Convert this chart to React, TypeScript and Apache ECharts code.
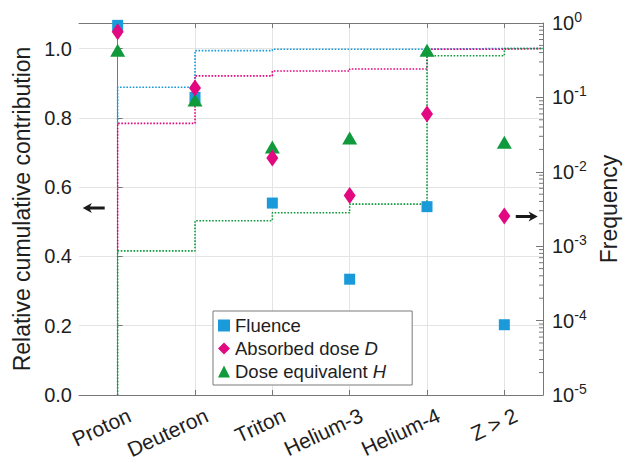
import React, { useEffect, useRef } from 'react';
import * as echarts from 'echarts';

const categories = ['Proton', 'Deuteron', 'Triton', 'Helium-3', 'Helium-4', 'Z > 2'];
const fluenceFreq = [0.93, 0.1, 0.0038, 0.00036, 0.0034, 0.000088];
const absorbedFreq = [0.76, 0.134, 0.0153, 0.0048, 0.06, 0.00255];
const doseEqFreq = [0.43, 0.092, 0.0215, 0.0284, 0.43, 0.025];
const fluenceCum = [0.888, 0.994, 0.998, 0.998, 1.0, 1.0];
const absorbedCum = [0.784, 0.921, 0.935, 0.941, 0.998, 1.0];
const doseEqCum = [0.416, 0.503, 0.526, 0.551, 0.979, 1.0];
const leftArrow = [-0.31, 0.54];
const rightArrow = [5.29, 0.0025];
const minorMultipliers = [2, 3, 4, 5, 6, 7, 8, 9];
const decades = [-5, -4, -3, -2, -1];

const BLUE = '#1a9ad8';
const PINK = '#e2087f';
const GREEN = '#109a3c';
const TEXT = '#1e1e1e';
const FONT = 'Liberation Sans, Arial, sans-serif';

// step outline: rises at the first category from `base`, then holds each level until the next category
function stepPath(cum: number[], base: number) {
  const pts: number[][] = [[0, base]];
  cum.forEach((v, i) => {
    pts.push([i, v]);
    if (i < cum.length - 1) pts.push([i + 1, v]);
  });
  pts.push([cum.length - 0.5, cum[cum.length - 1]]);
  return pts;
}

const minorValues: number[][] = [];
decades.forEach((d) => minorMultipliers.forEach((m) => minorValues.push([categories.length - 0.5, m * Math.pow(10, d)])));

const ARROW_LEFT = 'path://M0,5 L10,0 L8,3.5 L24,3.5 L24,6.5 L8,6.5 L10,10 Z';
const ARROW_RIGHT = 'path://M24,5 L14,0 L16,3.5 L0,3.5 L0,6.5 L16,6.5 L14,10 Z';

export default function App() {
  const ref = useRef<HTMLDivElement>(null);
  useEffect(() => {
    const chart = echarts.init(ref.current!, null, { renderer: 'svg' });
    const stepSeries = (name: string, cum: number[], base: number, color: string) => ({
      name,
      type: 'line',
      xAxisIndex: 1,
      yAxisIndex: 0,
      data: stepPath(cum, base),
      symbol: 'none',
      lineStyle: { color, width: 1.6, type: [1.6, 1.6] },
      silent: true,
      z: 3,
    });
    chart.setOption({
      animation: false,
      textStyle: { fontFamily: FONT },
      grid: { left: 79, top: 23, right: 85, bottom: 68, containLabel: false, outerBoundsMode: 'none' },
      legend: {
        data: [
          { name: 'Fluence', icon: 'rect' },
          { name: 'Absorbed dose', icon: 'diamond' },
          { name: 'Dose equivalent', icon: 'triangle' },
        ],
        orient: 'vertical',
        left: 213,
        top: 311,
        itemWidth: 12,
        itemHeight: 12,
        itemGap: 4,
        padding: [5, 26, 4, 5],
        backgroundColor: '#fff',
        borderColor: '#7a7a7a',
        borderWidth: 1,
        selectedMode: false,
        formatter: (n: string) => {
          if (n === 'Absorbed dose') return '{t|Absorbed dose }{i|D}';
          if (n === 'Dose equivalent') return '{t|Dose equivalent }{i|H}';
          return '{t|' + n + '}';
        },
        textStyle: {
          rich: {
            t: { fontSize: 18.5, color: TEXT, fontFamily: FONT, lineHeight: 19 },
            i: { fontSize: 18.5, color: TEXT, fontFamily: FONT, fontStyle: 'italic', lineHeight: 19 },
          },
        },
      },
      xAxis: [
        {
          type: 'category',
          data: categories,
          position: 'bottom',
          boundaryGap: true,
          axisLine: { show: true, lineStyle: { color: '#777', width: 1 } },
          axisTick: { show: true, inside: true, alignWithLabel: true, length: 5, lineStyle: { color: '#777' } },
          splitLine: { show: true, alignWithLabel: true, lineStyle: { color: '#e4e4e4', width: 1 } },
          axisLabel: {
            interval: 0,
            rotate: 25,
            fontSize: 21,
            color: TEXT,
            margin: 13,
            fontFamily: FONT,
            align: 'right',
            verticalAlign: 'top',
            padding: [0, -8, 0, 0],
          },
        },
        {
          type: 'value',
          min: -0.5,
          max: categories.length - 0.5,
          show: false,
        },
        {
          type: 'category',
          data: categories,
          position: 'top',
          boundaryGap: true,
          axisLine: { show: true, lineStyle: { color: '#777', width: 1 } },
          axisTick: { show: true, inside: true, alignWithLabel: true, length: 5, lineStyle: { color: '#777' } },
          axisLabel: { show: false },
          splitLine: { show: false },
        },
      ],
      yAxis: [
        {
          type: 'value',
          min: 0,
          max: 1.0736,
          interval: 0.2,
          position: 'left',
          name: 'Relative cumulative contribution',
          nameLocation: 'middle',
          nameGap: 35,
          nameRotate: 90,
          nameTextStyle: { fontSize: 23, color: TEXT, fontFamily: FONT },
          axisLine: { show: true, lineStyle: { color: '#777', width: 1 } },
          axisTick: { show: true, inside: true, length: 5, lineStyle: { color: '#777' } },
          splitLine: { show: true, lineStyle: { color: '#e4e4e4', width: 1 } },
          axisLabel: { fontSize: 20, color: TEXT, margin: 7, formatter: (v: number) => v.toFixed(1), showMaxLabel: false },
        },
        {
          type: 'log',
          logBase: 10,
          min: 0.00001,
          max: 1,
          position: 'right',
          name: 'Frequency',
          nameLocation: 'middle',
          nameGap: 46,
          nameRotate: 90,
          nameTextStyle: { fontSize: 23, color: TEXT, fontFamily: FONT },
          axisLine: { show: true, lineStyle: { color: '#777', width: 1 } },
          axisTick: { show: true, inside: true, length: 7, lineStyle: { color: '#777' } },
          splitLine: { show: false },
          axisLabel: {
            margin: 9,
            formatter: (v: number) => '{b|10}{s|' + Math.round(Math.log10(v)) + '}',
            rich: {
              b: { fontSize: 20, color: TEXT, fontFamily: FONT },
              s: { fontSize: 14, color: TEXT, fontFamily: FONT, padding: [0, 0, 12, 0] },
            },
          },
        },
      ],
      series: [
        stepSeries('fluenceCum', fluenceCum, absorbedCum[0], BLUE),
        stepSeries('absorbedCum', absorbedCum, doseEqCum[0], PINK),
        stepSeries('doseEqCum', doseEqCum, 0, GREEN),
        {
          type: 'custom',
          xAxisIndex: 1,
          yAxisIndex: 1,
          silent: true,
          data: minorValues,
          renderItem: (params: any, api: any) => {
            const p = api.coord([api.value(0), api.value(1)]);
            return {
              type: 'line',
              shape: { x1: p[0] - 4, y1: p[1], x2: p[0], y2: p[1] },
              style: { stroke: '#777', lineWidth: 1 },
            };
          },
          z: 1,
        },
        {
          name: 'Fluence',
          type: 'scatter',
          xAxisIndex: 0,
          yAxisIndex: 1,
          data: fluenceFreq,
          symbol: 'rect',
          symbolSize: 11,
          itemStyle: { color: BLUE, opacity: 1 },
          clip: false,
          z: 5,
        },
        {
          name: 'Dose equivalent',
          type: 'scatter',
          xAxisIndex: 0,
          yAxisIndex: 1,
          data: doseEqFreq,
          symbol: 'triangle',
          symbolSize: [15, 13],
          itemStyle: { color: GREEN, opacity: 1 },
          clip: false,
          z: 5,
        },
        {
          name: 'Absorbed dose',
          type: 'scatter',
          xAxisIndex: 0,
          yAxisIndex: 1,
          data: absorbedFreq,
          symbol: 'diamond',
          symbolSize: [12, 17],
          itemStyle: { color: PINK, opacity: 1 },
          clip: false,
          z: 5,
        },
        {
          name: 'leftArrow',
          type: 'scatter',
          xAxisIndex: 1,
          yAxisIndex: 0,
          data: [leftArrow],
          symbol: ARROW_LEFT,
          symbolSize: [22, 10],
          itemStyle: { color: '#1a1a1a', opacity: 1 },
          silent: true,
          z: 5,
        },
        {
          name: 'rightArrow',
          type: 'scatter',
          xAxisIndex: 1,
          yAxisIndex: 1,
          data: [rightArrow],
          symbol: ARROW_RIGHT,
          symbolSize: [22, 10],
          itemStyle: { color: '#1a1a1a', opacity: 1 },
          silent: true,
          z: 5,
        },
      ],
    });
    return () => chart.dispose();
  }, []);
  return (
    <div
      ref={ref}
      style={{ position: 'fixed', left: 0, top: 0, width: 628, height: 463, background: '#fff' }}
    />
  );
}
